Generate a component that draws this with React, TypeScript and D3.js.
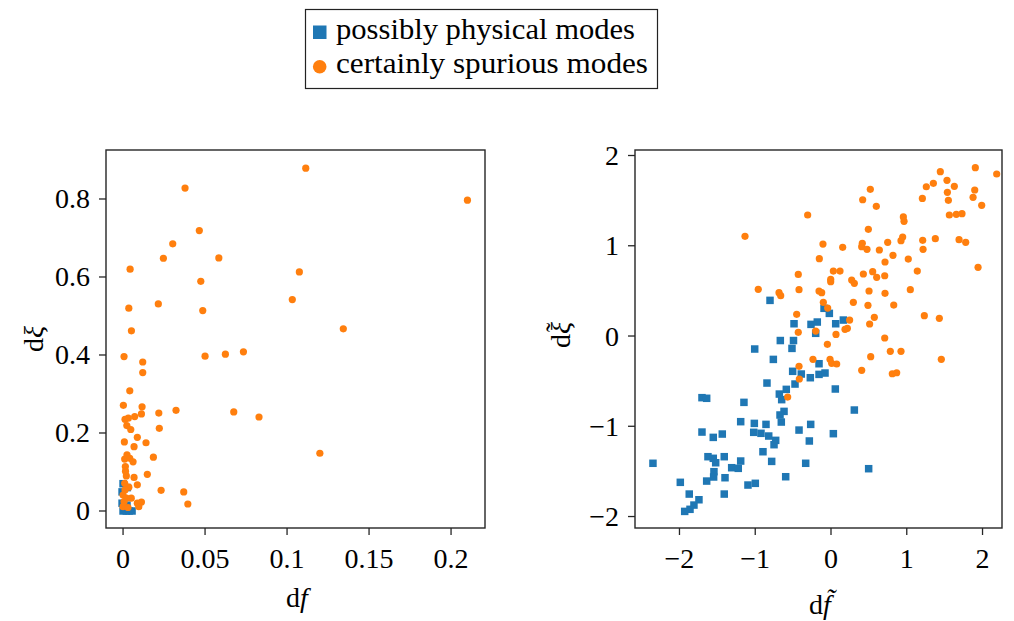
import React from "react";
import * as d3 from "d3";

// ---------- data ----------
const leftXTicks = [0, 0.05, 0.1, 0.15, 0.2];
const leftXTickLabels = ["0", "0.05", "0.1", "0.15", "0.2"];
const leftYTicks = [0, 0.2, 0.4, 0.6, 0.8];
const leftYTickLabels = ["0", "0.2", "0.4", "0.6", "0.8"];
const rightXTicks = [-2, -1, 0, 1, 2];
const rightXTickLabels = ["−2", "−1", "0", "1", "2"];
const rightYTicks = [-2, -1, 0, 1, 2];
const rightYTickLabels = ["−2", "−1", "0", "1", "2"];

const seriesNames = ["possibly physical modes", "certainly spurious modes"];

const leftPhysical: [number, number][] = [
  [0, 0], [0.002, 0], [0.0037, 0], [0.0055, 0], [-0.0006, 0.02], [-0.0006, 0.049],
  [0, 0.07], [0.0006, 0.01], [0.0024, 0.015], [0.0026, 0.06],
];

const leftSpurious: [number, number][] = [
  [0.21, 0.797], [0.1114, 0.879], [0.0378, 0.828], [0.0465, 0.719], [0.0303, 0.685],
  [0.0246, 0.648], [0.0584, 0.649], [0.0043, 0.62], [0.0474, 0.589], [0.1075, 0.613],
  [0.1032, 0.542], [0.0035, 0.52], [0.0215, 0.531], [0.0486, 0.514], [0.0051, 0.462],
  [0.1343, 0.467], [0.12, 0.148], [0.0006, 0.396], [0.012, 0.382], [0.012, 0.355],
  [0.05, 0.397], [0.0624, 0.402], [0.0734, 0.408], [0.0041, 0.308], [0.0002, 0.271],
  [0.0116, 0.267], [0.0112, 0.249], [0.0218, 0.251], [0.0323, 0.258], [0.0675, 0.254],
  [0.0829, 0.241], [0.0012, 0.235], [0.0032, 0.238], [0.0071, 0.242], [0.0023, 0.219],
  [0.0047, 0.209], [0.0221, 0.212], [0.0087, 0.189], [0.0008, 0.177], [0.0067, 0.165],
  [0.014, 0.175], [0.0185, 0.138], [0.001, 0.133], [0.0041, 0.135], [0.0061, 0.126],
  [0.0014, 0.114], [0.0148, 0.094], [0.002, 0.09], [0.0067, 0.086], [0.0087, 0.067],
  [0.001, 0.071], [0.0035, 0.061], [0.0232, 0.053], [0.037, 0.049], [0.0395, 0.018],
  [0.0, 0.041], [0.002, 0.033], [0.005, 0.033], [0.0087, 0.02], [0.0112, 0.023],
  [0.0096, 0.011], [0.0, 0.011], [0.003, 0.009], [0.0006, 0.024], [0.0024, 0.144],
  [0.0012, 0.054], [0.0015, 0.102],
];

const rightPhysical: [number, number][] = [
  [-0.805, 0.395], [-0.488, 0.136], [-0.264, 0.129], [-0.181, 0.155], [-0.202, 0.03],
  [-0.669, -0.05], [-0.495, -0.05], [-1.007, -0.144], [-0.515, -0.137], [-0.761, -0.259],
  [-0.158, -0.307], [-0.506, -0.391], [-0.392, -0.421], [-0.273, -0.462], [-0.158, -0.425],
  [-0.845, -0.521], [-0.475, -0.532], [-0.59, -0.591], [-0.682, -0.643], [-0.651, -0.705],
  [-1.703, -0.683], [-1.641, -0.69], [-1.149, -0.735], [-0.62, -0.835], [-0.673, -0.875],
  [-0.656, -0.953], [-1.192, -0.949], [-1.012, -0.968], [-0.858, -0.979], [-0.422, -1.042],
  [-0.268, -0.979], [-1.703, -1.064], [-1.02, -1.067], [-0.924, -1.078], [-1.554, -1.123],
  [-1.435, -1.086], [-0.822, -1.108], [-0.73, -1.156], [-0.752, -1.204], [-0.286, -1.163],
  [-0.898, -1.282], [-1.624, -1.337], [-1.554, -1.355], [-1.522, -1.404], [-1.409, -1.337],
  [-1.192, -1.385], [-0.783, -1.389], [-0.334, -1.41], [-2.35, -1.41], [-1.311, -1.459],
  [-1.224, -1.466], [-1.545, -1.503], [-1.549, -1.562], [-1.399, -1.57], [-0.598, -1.559],
  [-1.989, -1.621], [-1.641, -1.607], [-1.096, -1.651], [-0.999, -1.632], [-1.871, -1.751],
  [-1.409, -1.751], [-1.743, -1.814], [-1.809, -1.873], [-1.861, -1.92], [-1.931, -1.943],
  [-0.092, 0.307], [-0.022, 0.251], [0.163, 0.177], [0.062, 0.136], [-0.079, -0.41],
  [0.057, -0.587], [0.308, -0.82], [0.031, -1.082], [0.497, -1.47],
];

const rightSpurious: [number, number][] = [
  [-0.308, 1.341], [-1.135, 1.105], [-0.154, 0.857], [-0.432, 0.683], [-0.96, 0.517],
  [-0.422, 0.513], [-0.158, 0.499], [-0.686, 0.48], [-0.664, 0.447], [-0.453, 0.24],
  [-0.432, 0.041], [-0.202, 0.055], [-0.238, -0.258], [-0.422, -0.336], [-0.418, -0.476],
  [-0.572, -0.676], [0.493, 1.182], [-0.106, 1.019], [0.154, 0.983], [0.413, 1.027],
  [0.405, 0.99], [0.475, 0.96], [0.638, 0.953], [0.031, 0.72], [0.119, 0.72],
  [-0.004, 0.628], [-0.004, 0.602], [0.273, 0.62], [0.308, 0.584], [0.427, 0.687],
  [0.55, 0.713], [0.603, 0.65], [-0.123, 0.48], [0.502, 0.499], [0.295, 0.373],
  [0.488, 0.34], [0.572, 0.207], [0.51, 0.133], [-0.101, 0.373], [-0.044, 0.31],
  [0.246, 0.177], [0.216, 0.085], [0.185, 0.074], [0.066, 0.018], [-0.048, -0.092],
  [-0.013, -0.258], [0.009, -0.303], [0.075, -0.31], [0.524, -0.229], [0.405, -0.38],
  [0.709, -0.022], [0.783, -0.17], [0.924, -0.17], [1.456, -0.258], [0.809, -0.418],
  [0.867, -0.407], [1.443, 1.821], [1.905, 1.865], [2.187, 1.795], [1.258, 1.654],
  [1.351, 1.692], [1.531, 1.725], [1.628, 1.659], [1.536, 1.592], [1.897, 1.618],
  [1.206, 1.525], [1.549, 1.503], [1.875, 1.537], [1.989, 1.448], [0.519, 1.625],
  [0.418, 1.51], [0.598, 1.437], [0.955, 1.319], [0.964, 1.271], [1.562, 1.341],
  [1.654, 1.348], [1.729, 1.355], [0.748, 1.038], [0.946, 1.097], [0.924, 1.056],
  [1.21, 1.06], [1.377, 1.078], [1.69, 1.067], [1.778, 1.038], [1.215, 0.96],
  [0.818, 0.894], [1.02, 0.853], [0.713, 0.82], [1.941, 0.761], [0.709, 0.668],
  [1.139, 0.72], [0.713, 0.473], [1.047, 0.513], [0.828, 0.343], [1.232, 0.225],
  [1.43, 0.196],
];

// ---------- style ----------
const BLUE = "#1f77b4";
const ORANGE = "#ff7f0e";
const FONT = "'Liberation Serif', 'Times New Roman', serif";
const FS = 28;
const AXC = "#262626";

type PanelProps = {
  x0: number; x1: number; y0: number; y1: number;
  xDomain: [number, number]; yDomain: [number, number];
  xTicks: number[]; xTickLabels: string[];
  yTicks: number[]; yTickLabels: string[];
  physical: [number, number][]; spurious: [number, number][];
  tilde: boolean; xLabelBase: number; yLabelBase: number;
};

function Panel(p: PanelProps) {
  const xs = d3.scaleLinear().domain(p.xDomain).range([p.x0, p.x1]);
  const ys = d3.scaleLinear().domain(p.yDomain).range([p.y1, p.y0]);
  const sq = 7.5;
  const cx = (p.x0 + p.x1) / 2 + 1.5;
  const cy = (p.y0 + p.y1) / 2;
  const T = p.tilde ? "\u0303" : "";
  return (
    <g>
      {p.physical.map((d, i) => (
        <rect key={"p" + i} x={xs(d[0]) - sq / 2} y={ys(d[1]) - sq / 2} width={sq} height={sq} fill={BLUE} />
      ))}
      {p.spurious.map((d, i) => (
        <circle key={"s" + i} cx={xs(d[0])} cy={ys(d[1])} r={3.6} fill={ORANGE} />
      ))}
      <rect x={p.x0} y={p.y0} width={p.x1 - p.x0} height={p.y1 - p.y0} fill="none" stroke={AXC} strokeWidth={1.4} />
      {p.xTicks.map((t, i) => (
        <g key={"xt" + i}>
          <line x1={xs(t)} x2={xs(t)} y1={p.y1} y2={p.y1 + 7} stroke={AXC} strokeWidth={1.3} />
          <text x={xs(t)} y={p.y1 + 40} textAnchor="middle" fontFamily={FONT} fontSize={FS} fill="#000">
            {p.xTickLabels[i]}
          </text>
        </g>
      ))}
      {p.yTicks.map((t, i) => (
        <g key={"yt" + i}>
          <line x1={p.x0 - 7} x2={p.x0} y1={ys(t)} y2={ys(t)} stroke={AXC} strokeWidth={1.3} />
          <text x={p.x0 - 16} y={ys(t) + 9.5} textAnchor="end" fontFamily={FONT} fontSize={FS} fill="#000">
            {p.yTickLabels[i]}
          </text>
        </g>
      ))}
      {/* x label */}
      <text x={cx} y={p.xLabelBase} textAnchor="middle" fontFamily={FONT} fontSize={FS} fill="#000">
        <tspan>d</tspan>
        <tspan fontStyle="italic">{"f" + T}</tspan>
      </text>
      {/* y label */}
      <g transform={`translate(${p.yLabelBase},${cy}) rotate(-90)`}>
        <text x={p.tilde ? 4 : 0} y={0} textAnchor="middle" fontFamily={FONT} fontSize={FS} fill="#000">
          <tspan>d</tspan>
          <tspan fontStyle="italic">ξ</tspan>
          {p.tilde && (
            <tspan dx={-10} dy={-5}>˜</tspan>
          )}
        </text>
      </g>
    </g>
  );
}

export default function App() {
  return (
    <svg width={1014} height={621} viewBox="0 0 1014 621" style={{ position: "absolute", left: 0, top: 0, display: "block", background: "#fff" }}>
      <rect x={0} y={0} width={1014} height={621} fill="#fff" />
      <Panel
        x0={106} x1={485} y0={150} y1={528}
        xDomain={[-0.0104, 0.2207]} yDomain={[-0.0436, 0.9256]}
        xTicks={leftXTicks} xTickLabels={leftXTickLabels}
        yTicks={leftYTicks} yTickLabels={leftYTickLabels}
        physical={leftPhysical} spurious={leftSpurious}
        tilde={false} xLabelBase={607} yLabelBase={43}
      />
      <Panel
        x0={635} x1={1002} y0={150} y1={528}
        xDomain={[-2.587, 2.257]} yDomain={[-2.127, 2.061]}
        xTicks={rightXTicks} xTickLabels={rightXTickLabels}
        yTicks={rightYTicks} yTickLabels={rightYTickLabels}
        physical={rightPhysical} spurious={rightSpurious}
        tilde={true} xLabelBase={614} yLabelBase={570}
      />
      {/* legend */}
      <rect x={305.5} y={9.5} width={352} height={79} fill="#fff" stroke="#222" strokeWidth={1.2} />
      <rect x={313} y={25.5} width={13.5} height={13.5} fill={BLUE} />
      <circle cx={319.7} cy={66.7} r={6.8} fill={ORANGE} />
      <text x={336} y={39} fontFamily={FONT} fontSize={29} textLength={299} lengthAdjust="spacingAndGlyphs" fill="#000">
        {seriesNames[0]}
      </text>
      <text x={336} y={73} fontFamily={FONT} fontSize={29} textLength={312} lengthAdjust="spacingAndGlyphs" fill="#000">
        {seriesNames[1]}
      </text>
    </svg>
  );
}
